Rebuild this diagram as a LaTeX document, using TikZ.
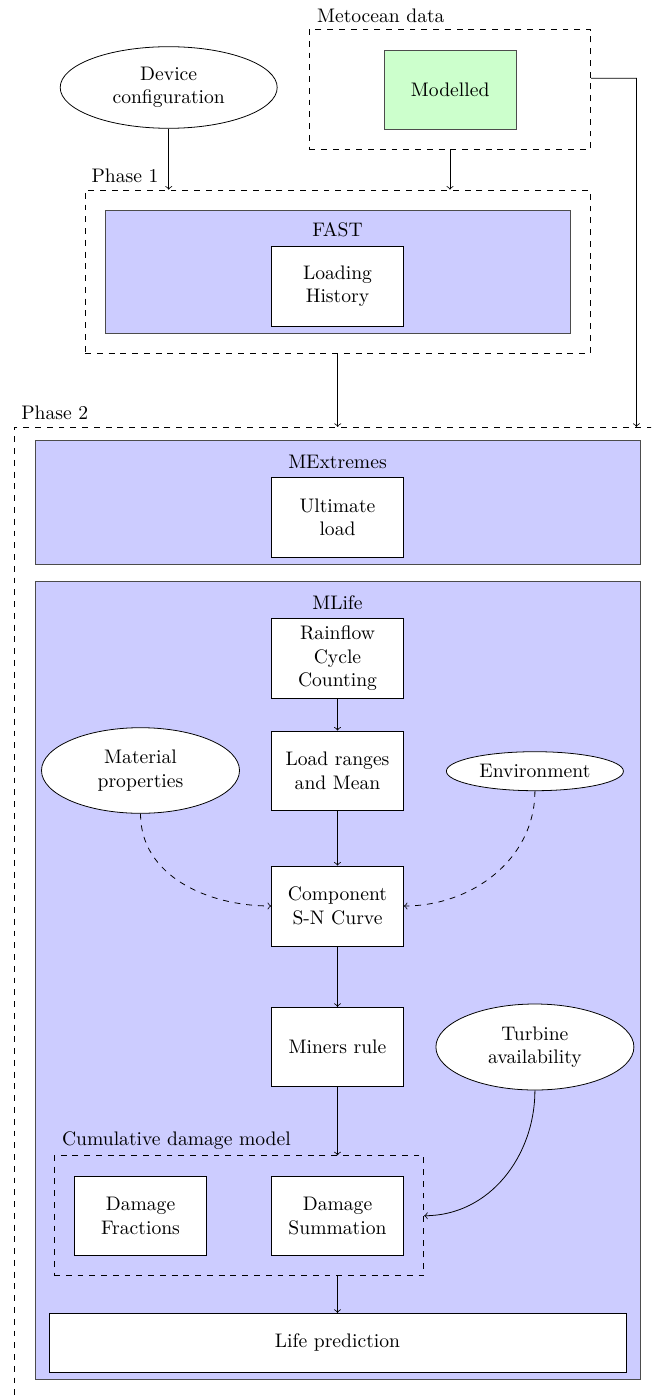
\documentclass[tikz,border=0pt]{standalone}
\usetikzlibrary{calc,shapes.geometric}
% one drawing unit = 0.51pt
\newcommand\pxu{0.51pt}
\begin{document}
\begin{tikzpicture}[x=0.51pt,y=-0.51pt,
  every node/.style={inner sep=0pt, align=center},
  sz/.style 2 args={minimum width=#1*\pxu, minimum height=#2*\pxu},
  wbox/.style={rectangle, draw, fill=white},
  bluebox/.style={rectangle, draw=black!70, fill=blue!20},
  greenbox/.style={rectangle, draw=black!70, fill=green!20},
  dbox/.style={rectangle, draw, dashed},
  oval/.style={ellipse, draw, fill=white},
  lbl/.style={anchor=base},
  arr/.style={->},
  darr/.style={->, dashed}]
\clip (0,0) rectangle (651,1396);

% metocean input
\node[dbox, sz={281.5}{119.7}] (met) at (450,89.2) {};
\node[lbl] (metlbl) at (380.8,22.7) {Metocean data};
\node[greenbox, sz={132.4}{79}] (modelled) at (450.2,89.5) {Modelled};

% device
\node[oval, sz={217}{81.6}] (dev) at (168.7,87.5) {Device\\configuration};

% phase 1
\node[dbox, sz={505.2}{163.3}] (phase1) at (337.7,271.7) {};
\node[lbl] (phase1lbl) at (125,182.7) {Phase 1};
\node[bluebox, sz={464.6}{123.3}] (fast) at (337.7,271.7) {};
\node[lbl] (fastlbl) at (337.5,236.7) {FAST};
\node[wbox, sz={132}{79.3}] (loading) at (337.5,286.3) {Loading\\History};

% phase 2
\node[dbox, sz={645.3}{982.7}] (phase2) at (337.35,918.65) {};
\node[lbl] (phase2lbl) at (54.8,419) {Phase 2};

\node[bluebox, sz={605.6}{123.3}] (mext) at (337.7,502.3) {};
\node[lbl] (mextlbl) at (337.5,468.3) {MExtremes};
\node[wbox, sz={132}{79.6}] (ult) at (337.5,517.5) {Ultimate\\load};

\node[bluebox, sz={605.6}{797.3}] (mlife) at (337.7,980.3) {};
\node[lbl] (mlifelbl) at (337.5,609.3) {MLife};
\node[wbox, sz={132}{80}] (rain) at (337.5,658.3) {Rainflow\\Cycle\\Counting};
\node[wbox, sz={132}{79.7}] (loadr) at (337.5,770.8) {Load ranges\\and Mean};
\node[oval, sz={198}{85.6}] (mat) at (140.5,770.5) {Material\\properties};
\node[oval, sz={177}{39}] (env) at (534.9,771.2) {Environment};
\node[wbox, sz={132}{80}] (comp) at (337.5,906) {Component\\S-N Curve};
\node[wbox, sz={132}{79.4}] (miners) at (337.5,1047) {Miners rule};
\node[oval, sz={198}{86}] (turb) at (534.9,1047) {Turbine\\availability};

\node[lbl] (cumlbl) at (176.4,1145) {Cumulative damage model};
\node[dbox, sz={369.8}{120}] (cum) at (238.9,1215.7) {};
\node[wbox, sz={132.4}{79.7}] (dfrac) at (140.5,1215.8) {Damage\\Fractions};
\node[wbox, sz={132}{79.7}] (dsum) at (337.5,1215.8) {Damage\\Summation};
\node[wbox, sz={577}{59}] (life) at (337.5,1342.8) {Life prediction};

% connectors
\draw[arr] (dev.south) -- (dev.south |- phase1.north);
\draw[arr] (met.south) -- (met.south |- phase1.north);
\coordinate (metout) at ([yshift=5.56pt]met.east);
\coordinate (metturn) at (636.4,78.3);
\draw[arr] (metout) -- (metturn) -- (metturn |- phase2.north);
\draw[arr] (phase1.south) -- (phase1.south |- phase2.north);

\draw[arr] (rain) -- (loadr);
\draw[arr] (loadr) -- (comp);
\draw[darr] (mat.south) to[out=-90,in=180] (comp.west);
\draw[darr] (env.south) to[out=-90,in=0] (comp.east);
\draw[arr] (comp) -- (miners);
\draw[arr] (miners.south) -- (miners.south |- cum.north);
\draw[arr] (turb.south) to[out=-90,in=0] (cum.east);
\draw[arr] (life.north |- cum.south) -- (life.north);
\end{tikzpicture}
\end{document}
